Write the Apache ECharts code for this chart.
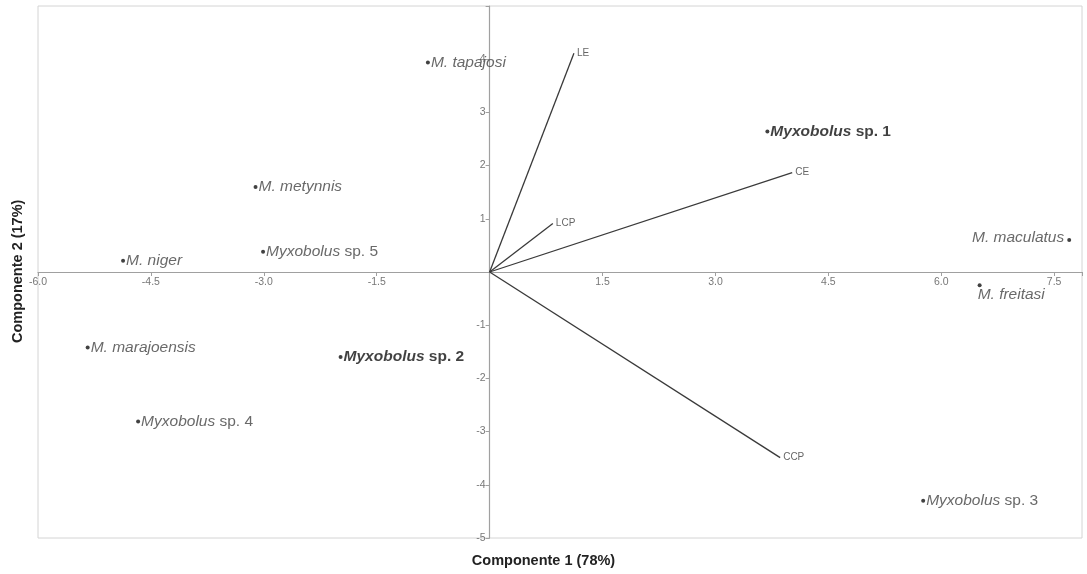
<!DOCTYPE html>
<html>
<head>
<meta charset="utf-8">
<script src="https://cdn.jsdelivr.net/npm/echarts@6/dist/echarts.min.js"></script>
<style>html,body{margin:0;padding:0;background:#fff}#c{width:1087px;height:574px}</style>
</head>
<body>
<div id="c"></div>
<script>
// Species scores (Componente 1, Componente 2)
const speciesNames = ['M. tapajosi','Myxobolus sp. 1','M. metynnis','Myxobolus sp. 5','M. niger','M. maculatus','M. freitasi','Myxobolus sp. 2','M. marajoensis','Myxobolus sp. 4','Myxobolus sp. 3'];
const speciesX = [-0.82, 3.69, -3.11, -3.01, -4.87, 7.70, 6.51, -1.98, -5.34, -4.67, 5.76];
const speciesY = [3.94, 2.64, 1.60, 0.38, 0.21, 0.60, -0.25, -1.60, -1.42, -2.81, -4.30];
// Variable loadings (vectors from origin)
const vectorNames = ['LE','CE','LCP','CCP'];
const vectorX = [1.12, 4.02, 0.84, 3.86];
const vectorY = [4.11, 1.87, 0.91, -3.49];
// Axis ticks
const xTicks = [-6.0, -4.5, -3.0, -1.5, 1.5, 3.0, 4.5, 6.0, 7.5];
const yTicks = [-5, -4, -3, -2, -1, 1, 2, 3, 4];

const boldNames = ['Myxobolus sp. 1','Myxobolus sp. 2'];
const labelPlacement = {
  'M. maculatus': {position:'left', distance:3, offset:[0,-2]},
  'M. freitasi': {position:'right', distance:0, offset:[-4,9]}
};

function richName(n){
  const bold = boldNames.indexOf(n) >= 0;
  if (n.indexOf('Myxobolus') === 0) {
    const rest = n.slice('Myxobolus'.length);
    return bold ? '{bi|Myxobolus}{b|' + rest + '}' : '{i|Myxobolus}{r|' + rest + '}';
  }
  return '{i|' + n + '}';
}

const speciesData = speciesNames.map((n,i) => {
  const p = labelPlacement[n] || {position:'right', distance:1, offset:[0,0]};
  return {
    name: n,
    value: [speciesX[i], speciesY[i]],
    label: {show:true, formatter: richName(n), position:p.position, distance:p.distance, offset:p.offset}
  };
});

const FS = 15.5;
const rich = {
  i: {fontStyle:'italic', fontSize:FS, color:'#444', fontFamily:'Liberation Sans'},
  r: {fontSize:FS, color:'#444', fontFamily:'Liberation Sans'},
  bi: {fontStyle:'italic', fontWeight:'bold', fontSize:FS, color:'#111', fontFamily:'Liberation Sans'},
  b: {fontWeight:'bold', fontSize:FS, color:'#111', fontFamily:'Liberation Sans'}
};

const vectorSeries = vectorNames.map((n,i) => ({
  type:'line',
  name:n,
  data:[[0,0],[vectorX[i], vectorY[i]]],
  symbol:'none',
  silent:true,
  z:3,
  lineStyle:{color:'#3a3a3a', width:1.3},
  endLabel:{show:true, formatter:n, color:'#666', fontSize:10, fontFamily:'Liberation Sans', distance:3}
}));

const chart = echarts.init(document.getElementById('c'));
const axisCommon = {
  axisLine:{onZero:false, lineStyle:{color:'#a0a0a0', width:1.2}},
  axisTick:{show:true, length:4, lineStyle:{color:'#a0a0a0'}},
  splitLine:{show:false}
};
chart.setOption({
  animation:false,
  backgroundColor:'#fff',
  grid:{left:38, right:5, top:6, bottom:36, show:true, borderColor:'#d4d4d4', borderWidth:1},
  xAxis:Object.assign({
    type:'value', min:-6, max:7.87, interval:1.5,
    axisLabel:{
      color:'#777', fontSize:10.5, fontFamily:'Liberation Sans', margin:5,
      formatter:v => { const t = xTicks.find(k => Math.abs(k - v) < 1e-6); return t === undefined ? '' : t.toFixed(1); }
    }
  }, axisCommon),
  yAxis:Object.assign({
    type:'value', min:-5, max:5, interval:1,
    axisLabel:{
      color:'#777', fontSize:10.5, fontFamily:'Liberation Sans', margin:4,
      formatter:v => { const t = yTicks.find(k => Math.abs(k - v) < 1e-6); return t === undefined ? '' : String(t); }
    }
  }, axisCommon),
  graphic:[
    {type:'text', left:'center', top:553, style:{text:'Componente 1 (78%)', font:'bold 14.5px "Liberation Sans"', fill:'#222'}},
    {type:'text', x:10, y:343, rotation:Math.PI/2, style:{text:'Componente 2 (17%)', font:'bold 14.5px "Liberation Sans"', fill:'#222'}}
  ],
  series:[
    ...vectorSeries,
    {
      type:'scatter',
      data:speciesData,
      symbol:'circle',
      symbolSize:4,
      itemStyle:{color:'#111'},
      z:5,
      label:{rich:rich}
    }
  ]
});
// Move both axes onto the zero lines using the library's own scales
const y0 = chart.convertToPixel({yAxisIndex:0}, 0);
const yBottom = chart.convertToPixel({yAxisIndex:0}, -5);
const x0 = chart.convertToPixel({xAxisIndex:0}, 0);
const xLeft = chart.convertToPixel({xAxisIndex:0}, -6);
chart.setOption({
  xAxis:{offset:-(yBottom - y0)},
  yAxis:{offset:-(x0 - xLeft)}
});
</script>
</body>
</html>
